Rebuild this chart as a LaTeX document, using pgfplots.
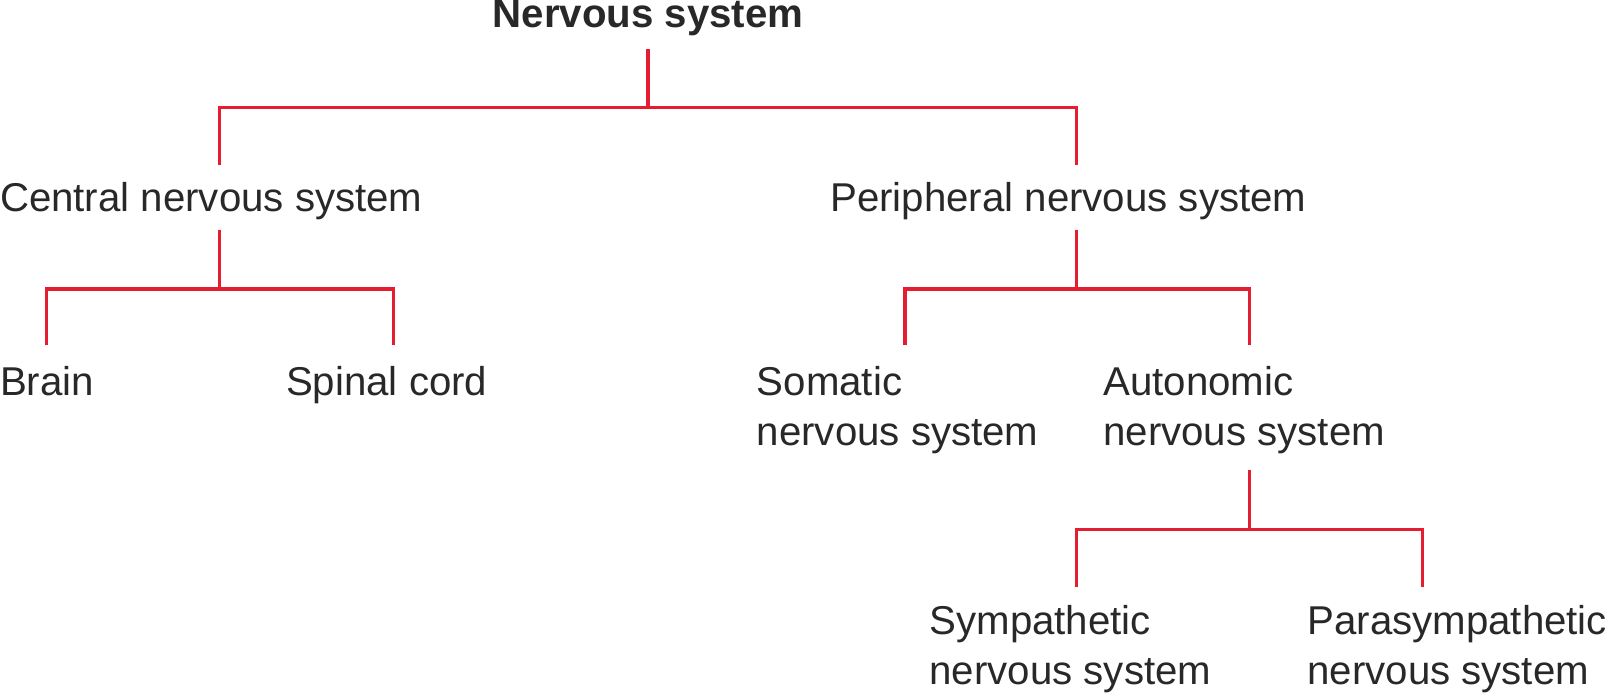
\documentclass[border=0pt]{standalone}
\usepackage{pgfplots}
\pgfplotsset{compat=1.18}
\usepackage{fontspec}
\setmainfont{Liberation Sans}
\definecolor{lr}{RGB}{228,30,48}
\definecolor{tx}{RGB}{40,40,40}
\begin{document}
\begin{tikzpicture}
\begin{axis}[width=16.07cm,height=7.40cm,scale only axis,hide axis,
 xmin=0,xmax=1607,ymin=0,ymax=740,y dir=reverse,clip=false]
\pgfplotsset{cycle list={{lr,line width=0.85pt,solid,mark=none}}}
\addplot[lr,line width=0.85pt,mark=none] coordinates {(634,68)(634,122)};
\addplot[lr,line width=0.85pt,mark=none] coordinates {(237,175)(237,122)(1031,122)(1031,175)};
\addplot[lr,line width=0.85pt,mark=none] coordinates {(237,235)(237,290)};
\addplot[lr,line width=0.85pt,mark=none] coordinates {(77,342)(77,290)(398,290)(398,342)};
\addplot[lr,line width=0.85pt,mark=none] coordinates {(1031,235)(1031,290)};
\addplot[lr,line width=0.85pt,mark=none] coordinates {(872,342)(872,290)(1191,290)(1191,342)};
\addplot[lr,line width=0.85pt,mark=none] coordinates {(1191,458)(1191,513)};
\addplot[lr,line width=0.85pt,mark=none] coordinates {(1031,566)(1031,513)(1351,513)(1351,566)};
\tikzset{every node/.style={font=\fontsize{10.6}{13}\selectfont,text=tx,inner sep=0pt,anchor=base west}}
\node[anchor=base] at (axis cs:634,48) {\textbf{Nervous system}};
\node at (axis cs:33,218) {Central nervous system};
\node at (axis cs:802,218) {Peripheral nervous system};
\node at (axis cs:33,389) {Brain};
\node at (axis cs:298,389) {Spinal cord};
\node at (axis cs:734,389) {Somatic};
\node at (axis cs:734,435) {nervous system};
\node at (axis cs:1055,389) {Autonomic};
\node at (axis cs:1055,435) {nervous system};
\node at (axis cs:894,610) {Sympathetic};
\node at (axis cs:894,656) {nervous system};
\node at (axis cs:1244,610) {Parasympathetic};
\node at (axis cs:1244,656) {nervous system};
\end{axis}
\end{tikzpicture}
\end{document}
